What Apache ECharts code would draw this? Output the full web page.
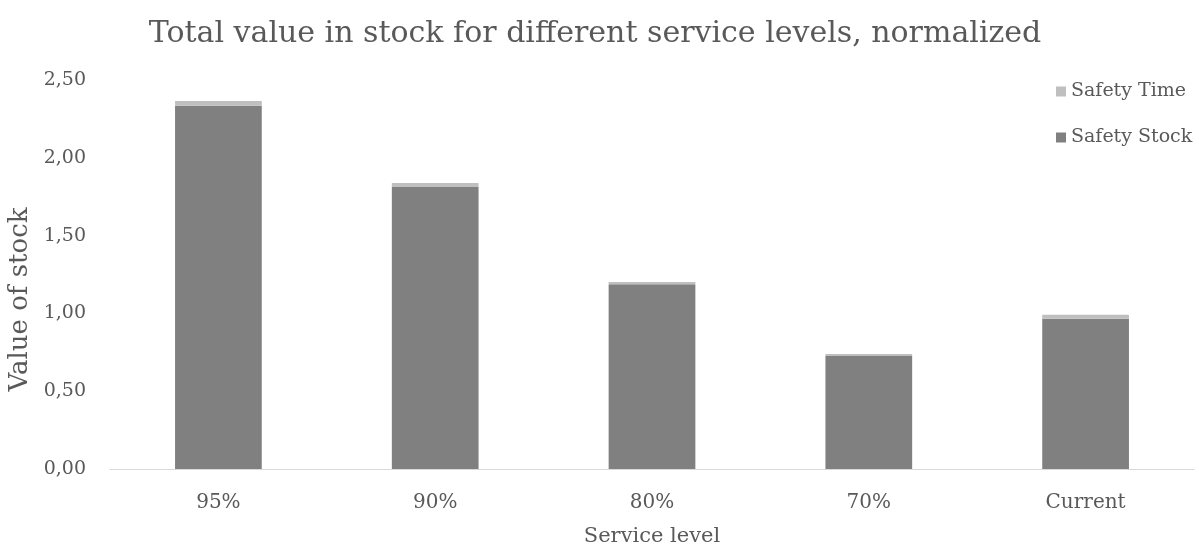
<!DOCTYPE html>
<html><head><meta charset="utf-8">
<script src="https://cdn.jsdelivr.net/npm/echarts@6/dist/echarts.min.js"></script>
<style>html,body{margin:0;padding:0;background:#fff}#c{width:1199px;height:552px}</style>
</head><body><div id="c"></div>
<script>
const categories = ['95%', '90%', '80%', '70%', 'Current'];
const safetyStock = [2.335, 1.812, 1.187, 0.726, 0.966];
const safetyTime = [0.030, 0.026, 0.015, 0.013, 0.026];
const F = 'DejaVu Serif';
const C = '#595959';
const chart = echarts.init(document.getElementById('c'));
chart.setOption({
  animation: false,
  title: { text: 'Total value in stock for different service levels, normalized', left: 590, top: 14, textAlign: 'center',
    textStyle: { fontFamily: F, fontSize: 30, fontWeight: 'normal', color: C } },
  legend: { orient: 'vertical', left: 1051, top: 77, itemWidth: 10, itemHeight: 10, itemGap: 27, icon: 'rect',
    data: ['Safety Time', 'Safety Stock'],
    textStyle: { fontFamily: F, fontSize: 19, color: C } },
  grid: { left: 110, right: 5, top: 80, bottom: 83, containLabel: false, outerBoundsMode: 'none' },
  xAxis: { type: 'category', data: categories, name: 'Service level', nameLocation: 'middle', nameGap: 57,
    nameTextStyle: { fontFamily: F, fontSize: 21, color: C },
    axisLine: { lineStyle: { color: '#D9D9D9' } }, axisTick: { show: false },
    axisLabel: { fontFamily: F, fontSize: 20, color: C, margin: 24 } },
  yAxis: { type: 'value', min: 0, max: 2.5, interval: 0.5, name: 'Value of stock', nameLocation: 'middle', nameGap: 75,
    nameTextStyle: { fontFamily: F, fontSize: 26, color: C, padding: [0, 50, 0, 0] },
    splitLine: { show: false }, axisLine: { show: false },
    axisLabel: { fontFamily: F, fontSize: 19, color: C, margin: 24, formatter: v => v.toFixed(2).replace('.', ',') } },
  series: [
    { name: 'Safety Stock', type: 'bar', stack: 's', data: safetyStock, barWidth: '40%', itemStyle: { color: '#808080' } },
    { name: 'Safety Time', type: 'bar', stack: 's', data: safetyTime, barWidth: '40%', itemStyle: { color: '#BFBFBF' } }
  ]
});
</script></body></html>
